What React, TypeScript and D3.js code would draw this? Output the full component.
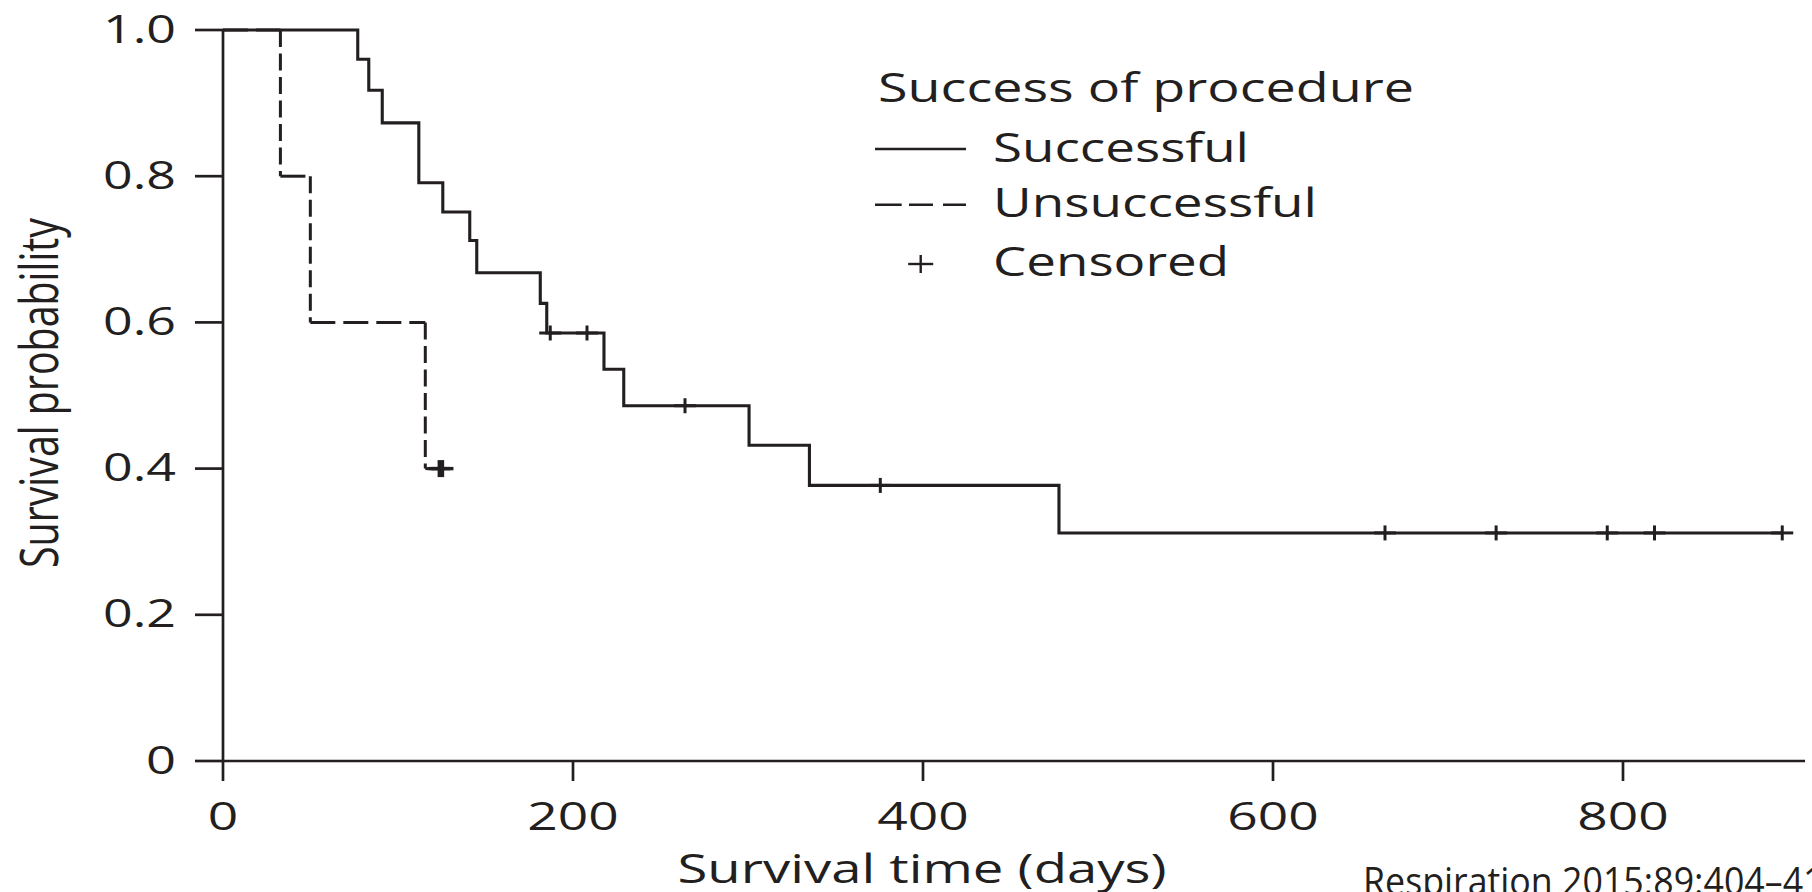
import React from "react";
import * as d3 from "d3";

// ---- data ----
const successTimes = [0, 77, 83.3, 91, 111.9, 125.6, 141, 145, 181.3, 185, 217.7, 229, 300.6, 335.1, 477.7];
const successSurv = [1.0, 0.96, 0.9175, 0.873, 0.791, 0.751, 0.712, 0.668, 0.626, 0.5855, 0.536, 0.486, 0.432, 0.377, 0.312];
const successCensored = [187, 208, 264, 375.6, 664, 727.5, 791, 818, 891];
const successEnd = 891;

const failTimes = [0, 32.8, 49.9, 115.6];
const failSurv = [1.0, 0.8, 0.6, 0.4];
const failCensored = [123.6, 125.4];
const failEnd = 125.4;

const xTicks = [0, 200, 400, 600, 800];
const xTickLabels = ["0", "200", "400", "600", "800"];
const yTicks = [0, 0.2, 0.4, 0.6, 0.8, 1.0];
const yTickLabels = ["0", "0.2", "0.4", "0.6", "0.8", "1.0"];

const legendTitle = "Success of procedure";
const legendLabels = ["Successful", "Unsuccessful", "Censored"];
const xTitle = "Survival time (days)";
const yTitle = "Survival probability";
const citation = "Respiration 2015;89:404\u2013411";

const INK = "#231f20";
const FONT = "'Open Sans', 'Noto Sans', sans-serif";

const W = 1812;
const H = 892;

const x = d3.scaleLinear().domain([0, 904]).range([223, 1805]);
const y = d3.scaleLinear().domain([0, 1]).range([761, 30]);

function survAt(times: number[], surv: number[], t: number) {
  let v = surv[0];
  for (let i = 0; i < times.length; i++) if (times[i] <= t) v = surv[i];
  return v;
}

function stepPoints(times: number[], surv: number[], end: number): [number, number][] {
  const pts: [number, number][] = times.map((t, i) => [t, surv[i]]);
  pts.push([end, surv[surv.length - 1]]);
  return pts;
}

function segments(times: number[], surv: number[], end: number) {
  const hs: [number, number][][] = [];
  const vs: [number, number][][] = [];
  for (let i = 0; i < times.length; i++) {
    const tNext = i + 1 < times.length ? times[i + 1] : end;
    hs.push([[times[i], surv[i]], [tNext, surv[i]]]);
    if (i + 1 < times.length) vs.push([[tNext, surv[i]], [tNext, surv[i + 1]]]);
  }
  return { hs, vs };
}

const line = d3
  .line<[number, number]>()
  .x((d) => x(d[0]))
  .y((d) => y(d[1]));

const stepLine = d3
  .line<[number, number]>()
  .x((d) => x(d[0]))
  .y((d) => y(d[1]))
  .curve(d3.curveStepAfter);

function Plus({ cx, cy, hw = 11, hh = 7.5, sw = 3 }: { cx: number; cy: number; hw?: number; hh?: number; sw?: number }) {
  return (
    <g stroke={INK} strokeWidth={sw}>
      <line x1={cx - hw} x2={cx + hw} y1={cy} y2={cy} />
      <line x1={cx} x2={cx} y1={cy - hh} y2={cy + hh} />
    </g>
  );
}

function T({
  x: tx,
  y: ty,
  len,
  size,
  anchor = "start",
  children,
}: {
  x: number;
  y: number;
  len: number;
  size: number;
  anchor?: string;
  children: string;
}) {
  return (
    <text
      x={tx}
      y={ty}
      fontSize={size}
      fontFamily={FONT}
      fill={INK}
      textAnchor={anchor}
      textLength={len}
      lengthAdjust="spacingAndGlyphs"
    >
      {children}
    </text>
  );
}

export default function App() {
  const failSeg = segments(failTimes, failSurv, failEnd);
  const succPath = stepLine(stepPoints(successTimes, successSurv, successEnd)) || "";

  const x0 = x.range()[0];
  const y0 = y.range()[0];

  return (
    <svg
      width={W}
      height={H}
      viewBox={`0 0 ${W} ${H}`}
      style={{ position: "absolute", left: 0, top: 0, background: "#fff" }}
    >
      <rect x={0} y={0} width={W} height={H} fill="#fff" />

      {/* axes */}
      <g stroke={INK} strokeWidth={2.7} fill="none">
        <line x1={x0} x2={x0} y1={y(1)} y2={y0} />
        <line x1={x0} x2={x.range()[1]} y1={y0} y2={y0} />
        {yTicks.map((t) => (
          <line key={"yt" + t} x1={x0 - 28} x2={x0} y1={y(t)} y2={y(t)} />
        ))}
        {xTicks.map((t) => (
          <line key={"xt" + t} x1={x(t)} x2={x(t)} y1={y0} y2={y0 + 20} />
        ))}
      </g>

      {/* y tick labels */}
      {yTicks.map((t, i) => (
        <T
          key={"yl" + t}
          x={176}
          y={y(t) + 12.5}
          size={38}
          anchor="end"
          len={yTickLabels[i].length === 1 ? 30 : 73}
        >
          {yTickLabels[i]}
        </T>
      ))}

      {/* x tick labels */}
      {xTicks.map((t, i) => (
        <T
          key={"xl" + t}
          x={x(t)}
          y={830}
          size={39}
          anchor="middle"
          len={xTickLabels[i].length * 30.5}
        >
          {xTickLabels[i]}
        </T>
      ))}

      {/* axis titles */}
      <T x={922} y={883} size={40} anchor="middle" len={489}>
        {xTitle}
      </T>
      <g transform="translate(58,393) scale(1.38,1) rotate(-90)">
        <text
          x={0}
          y={0}
          fontSize={38}
          fontFamily={FONT}
          fill={INK}
          textAnchor="middle"
          textLength={350}
          lengthAdjust="spacingAndGlyphs"
        >
          {yTitle}
        </text>
      </g>

      {/* citation */}
      <T x={1363} y={895} size={38} len={481}>
        {citation}
      </T>

      {/* unsuccessful (dashed) */}
      <g stroke={INK} strokeWidth={3} fill="none">
        {failSeg.hs.map((s, i) => (
          <path key={"fh" + i} d={line(s) || ""} strokeDasharray="25 8" />
        ))}
        {failSeg.vs.map((s, i) => (
          <path key={"fv" + i} d={line(s) || ""} strokeDasharray="17 6.5" />
        ))}
      </g>
      {failCensored.map((t, i) => (
        <Plus key={"fc" + i} cx={x(t)} cy={y(survAt(failTimes, failSurv, t))} hh={8.5} sw={3.4} />
      ))}

      {/* successful (solid) */}
      <path d={succPath} stroke={INK} strokeWidth={3.1} fill="none" strokeLinejoin="miter" />
      {successCensored.map((t, i) => (
        <Plus key={"sc" + i} cx={x(t)} cy={y(survAt(successTimes, successSurv, t))} />
      ))}

      {/* legend */}
      <T x={878} y={101.7} size={40} len={536}>
        {legendTitle}
      </T>
      <line x1={875} x2={966} y1={149} y2={149} stroke={INK} strokeWidth={2.6} />
      <T x={993} y={161.7} size={40} len={256}>
        {legendLabels[0]}
      </T>
      <line x1={875} x2={966} y1={204.7} y2={204.7} stroke={INK} strokeWidth={2.6} strokeDasharray="26.7 7.3 24 10" />
      <T x={993} y={217} size={40} len={324}>
        {legendLabels[1]}
      </T>
      <Plus cx={920.7} cy={264} hw={12.5} hh={9} sw={2.4} />
      <T x={993} y={276} size={40} len={236}>
        {legendLabels[2]}
      </T>
    </svg>
  );
}
